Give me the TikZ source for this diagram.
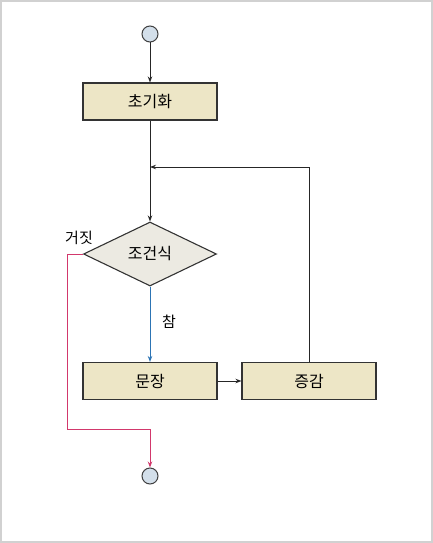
\documentclass[tikz,border=0pt]{standalone}
\usepackage{fontspec}
\setmainfont{Noto Sans CJK KR}
\usetikzlibrary{shapes.geometric,arrows.meta}
\definecolor{boxfill}{HTML}{EDE6C6}
\definecolor{condfill}{HTML}{ECEAE2}
\definecolor{termfill}{HTML}{D3DFEA}
\definecolor{falsered}{HTML}{D2386C}
\definecolor{trueblue}{HTML}{2C74B4}
\begin{document}
\begin{tikzpicture}[x=1pt,y=-1pt,>={Stealth[length=6pt,width=4.5pt]}]
  \tikzstyle{stepbox}=[rectangle, draw=black!80, line width=1.1pt, fill=boxfill, minimum width=134pt, minimum height=37pt, inner sep=0pt, font=\fontsize{16}{18}\selectfont]
  \tikzstyle{condnode}=[diamond, draw=black!80, line width=1.1pt, fill=condfill, minimum width=133pt, minimum height=64pt, inner sep=0pt, aspect=2.08, font=\fontsize{16}{18}\selectfont]
  \tikzstyle{termnode}=[circle, draw=black!75, line width=1pt, fill=termfill, minimum size=16pt, inner sep=0pt]
  \tikzstyle{flow}=[->, line width=1pt, draw=black!85]
  % frame
  \useasboundingbox (0,0) rectangle (433,543);
  \draw[black!18, line width=1.5pt] (1,1) rectangle (432,542);
  % Node definitions
  \node[termnode] (start) at (150,34) {};
  \node[stepbox] (init) at (150,101.5) {초기화};
  \node[condnode] (cond) at (150,254) {조건식};
  \node[stepbox] (body) at (150,381) {문장};
  \node[stepbox] (incr) at (309,381) {증감};
  \node[termnode] (stop) at (150,476) {};
  \coordinate (join) at (150,167);
  \coordinate (fbend) at (67,429);
  \node[font=\fontsize{15}{17}\selectfont] (flabel) at (79,238) {거짓};
  \node[font=\fontsize{15}{17}\selectfont] (tlabel) at (169,322) {참};

  % Edge definitions
  \draw[flow] (start) -- (init);
  \draw[flow] (init) -- (cond);
  \draw[flow] (incr.north) |- (join);
  \draw[flow, draw=trueblue] (cond) -- (body);
  \draw[flow] (body) -- (incr);
  \draw[flow, draw=falsered] (cond.west) -| (fbend) -| (stop.north);
\end{tikzpicture}
\end{document}
